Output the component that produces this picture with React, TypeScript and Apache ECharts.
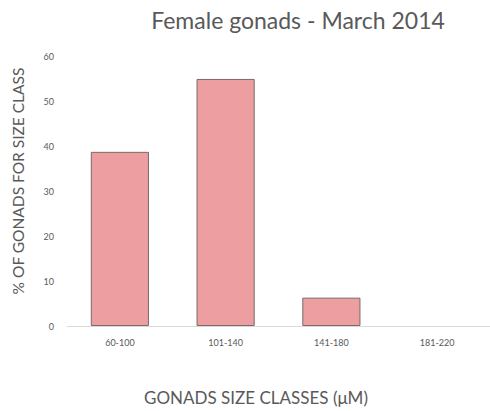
import React, { useEffect, useRef } from "react";
import * as echarts from "echarts";

const categories = ["60-100", "101-140", "141-180", "181-220"];
const values = [38.7, 54.9, 6.3, 0];
const yTicks = [0, 10, 20, 30, 40, 50, 60];
const titleText = "Female gonads - March 2014";
const xAxisTitle = "GONADS SIZE CLASSES (μM)";
const yAxisTitle = "% OF GONADS FOR SIZE CLASS";

export default function App() {
  const ref = useRef<HTMLDivElement>(null);
  useEffect(() => {
    if (!ref.current) return;
    const chart = echarts.init(ref.current, null, { renderer: "svg" });
    chart.setOption({
      animation: false,
      textStyle: { fontFamily: "Lato" },
      title: {
        text: titleText,
        left: 293,
        top: 3,
        textAlign: "center",
        textStyle: { fontFamily: "Lato", fontSize: 23, fontWeight: "normal", color: "#595959" },
      },
      graphic: [
        {
          type: "text",
          x: 256,
          y: 397,
          style: {
            text: xAxisTitle,
            fontFamily: "Lato",
            fontSize: 17,
            fill: "#595959",
            align: "center",
            verticalAlign: "middle",
          },
        },
        {
          type: "text",
          x: 18,
          y: 181,
          rotation: Math.PI / 2,
          style: {
            text: yAxisTitle,
            fontFamily: "Lato",
            fontSize: 15.5,
            fill: "#595959",
            align: "center",
            verticalAlign: "middle",
          },
        },
      ],
      grid: { left: 67, top: 56, width: 426, height: 270 },
      xAxis: {
        type: "category",
        data: categories,
        axisLine: { lineStyle: { color: "#d9d9d9" } },
        axisTick: { show: false },
        axisLabel: { color: "#595959", fontSize: 9, margin: 12 },
      },
      yAxis: {
        type: "value",
        min: 0,
        max: 60,
        interval: 10,
        axisLine: { show: false },
        axisTick: { show: false },
        splitLine: { show: false },
        axisLabel: {
          color: "#595959",
          fontSize: 9,
          margin: 13,
          formatter: (v: number) => (yTicks.includes(v) ? String(v) : ""),
        },
      },
      series: [
        {
          type: "bar",
          data: values.map((v) => ({
            value: v,
            itemStyle: v === 0 ? { borderWidth: 0, opacity: 0 } : undefined,
          })),
          barWidth: "55%",
          itemStyle: { color: "#ec9ea1", borderColor: "#7a6a6b", borderWidth: 1 },
        },
      ],
    });
    return () => chart.dispose();
  }, []);
  return <div ref={ref} style={{ width: 490, height: 411, position: "absolute", left: 0, top: 0 }} />;
}
